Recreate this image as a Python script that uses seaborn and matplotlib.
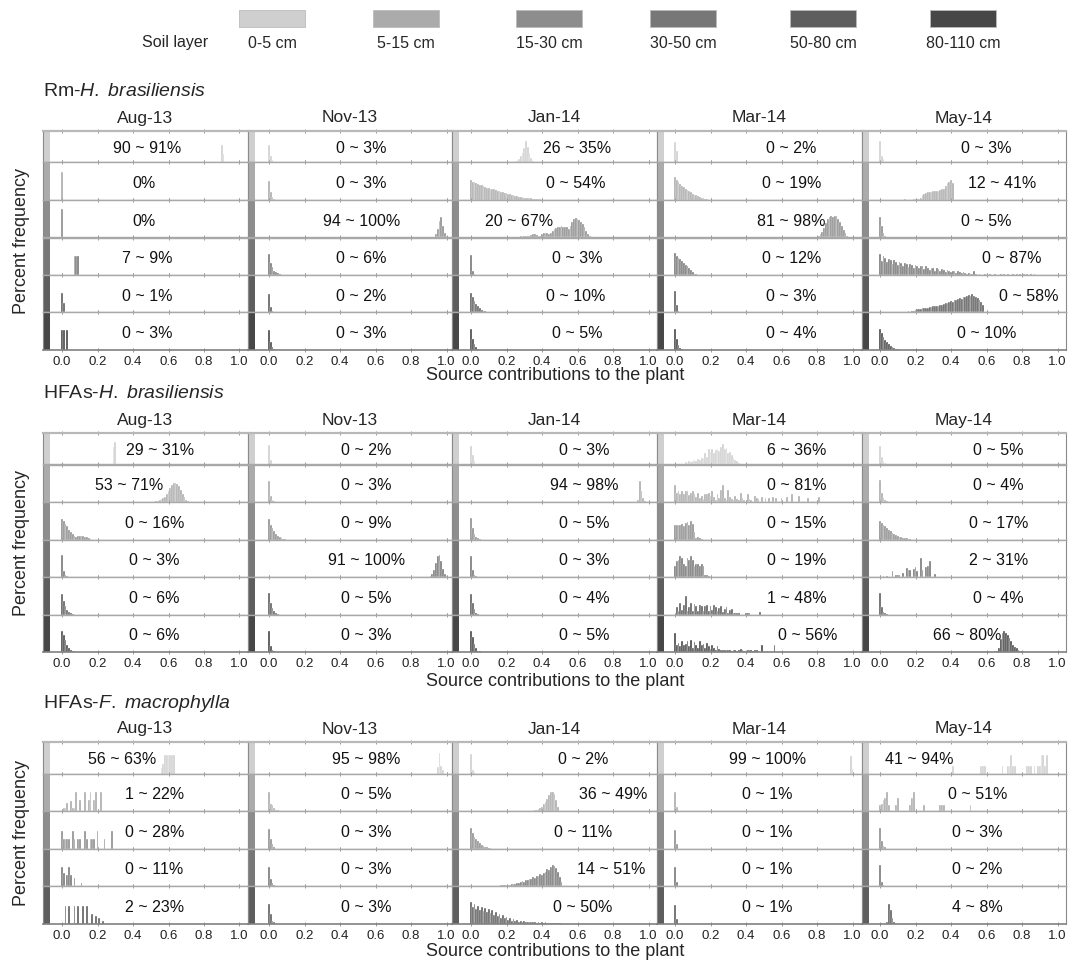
import numpy as np
import pandas as pd
import matplotlib
matplotlib.use('Agg')
import matplotlib.pyplot as plt
from matplotlib.patches import Rectangle
import seaborn as sns

# Source contributions of soil layers to plant water (MixSIAR style histograms)

layers = ['0-5 cm', '5-15 cm', '15-30 cm', '30-50 cm', '50-80 cm', '80-110 cm']
layer_colors = ['#cfcfcf', '#ababab', '#8d8d8d', '#777777', '#5e5e5e', '#474747']
months = ['Aug-13', 'Nov-13', 'Jan-14', 'Mar-14', 'May-14']
panel_titles = [r'Rm-$\mathit{H.\ brasiliensis}$',
                r'HFAs-$\mathit{H.\ brasiliensis}$',
                r'HFAs-$\mathit{F.\ macrophylla}$']
tick_values = [0.0, 0.2, 0.4, 0.6, 0.8, 1.0]
tick_labels = ['0.0', '0.2', '0.4', '0.6', '0.8', '1.0']

# ---- Rm - H. brasiliensis ----
rm_ranges = [
    ['90 ~ 91%', '0 ~ 3%', '26 ~ 35%', '0 ~ 2%', '0 ~ 3%'],
    ['0%', '0 ~ 3%', '0 ~ 54%', '0 ~ 19%', '12 ~ 41%'],
    ['0%', '94 ~ 100%', '20 ~ 67%', '81 ~ 98%', '0 ~ 5%'],
    ['7 ~ 9%', '0 ~ 6%', '0 ~ 3%', '0 ~ 12%', '0 ~ 87%'],
    ['0 ~ 1%', '0 ~ 2%', '0 ~ 10%', '0 ~ 3%', '0 ~ 58%'],
    ['0 ~ 3%', '0 ~ 3%', '0 ~ 5%', '0 ~ 4%', '0 ~ 10%'],
]
# each cell: (first bin, relative bar heights of 1% bins)
rm_hist = [
    [(0.90, [0.57, 0.27]),
     (0.0, [0.55, 0.2, 0.07, 0.03]),
     (0.26, [0.05, 0.1, 0.2, 0.3, 0.45, 0.68, 0.5, 0.3, 0.15, 0.05]),
     (0.0, [0.64, 0.35, 0.03]),
     (0.0, [0.68, 0.22, 0.1, 0.03])],
    [(0.0, [0.75]),
     (0.0, [0.5, 0.2, 0.07, 0.03]),
     (0.0, [0.53, 0.49, 0.47, 0.45, 0.43, 0.41, 0.39, 0.37, 0.35, 0.33,
            0.31, 0.30, 0.29, 0.28, 0.27, 0.25, 0.24, 0.22, 0.21, 0.19,
            0.18, 0.16, 0.15, 0.13, 0.12, 0.11, 0.10, 0.09, 0.08, 0.07,
            0.06, 0.05, 0.05, 0.04, 0.04, 0.03, 0.03, 0.03, 0.03, 0.02,
            0.01, 0.01, 0.01, 0.01, 0.01, 0.01, 0.01, 0.01, 0.01, 0.01,
            0.01, 0.01, 0.01, 0.01, 0.01]),
     (0.0, [0.6, 0.52, 0.47, 0.42, 0.38, 0.34, 0.3, 0.27, 0.24, 0.2,
            0.17, 0.14, 0.12, 0.1, 0.08, 0.06, 0.04, 0.03, 0.02, 0.01]),
     (0.12, [0.01, 0.01, 0.02, 0.01, 0.01, 0.01, 0.01, 0.02, 0.02, 0.02,
             0.03, 0.06, 0.12, 0.16, 0.18, 0.2, 0.22, 0.22, 0.24, 0.24,
             0.25, 0.25, 0.27, 0.28, 0.3, 0.38, 0.45, 0.47, 0.52, 0.45])],
    [(0.0, [0.76]),
     (0.94, [0.08, 0.22, 0.45, 0.54, 0.3, 0.12, 0.04]),
     (0.20, [0.01, 0.0, 0.01, 0.0, 0.01, 0.01, 0.02, 0.02, 0.03, 0.02,
             0.03, 0.04, 0.03, 0.05, 0.07, 0.09, 0.08, 0.06, 0.04, 0.05,
             0.08, 0.11, 0.13, 0.12, 0.10, 0.12, 0.16, 0.22, 0.26, 0.28,
             0.29, 0.30, 0.28, 0.29, 0.27, 0.22, 0.30, 0.40, 0.48, 0.52,
             0.50, 0.46, 0.42, 0.36, 0.28, 0.18, 0.09, 0.04]),
     (0.81, [0.03, 0.08, 0.15, 0.25, 0.38, 0.48, 0.55, 0.58, 0.55, 0.58,
             0.56, 0.5, 0.42, 0.3, 0.2, 0.12, 0.05, 0.02]),
     (0.0, [0.55, 0.3, 0.12, 0.05, 0.02, 0.01])],
    [(0.07, [0.52, 0.52, 0.52]),
     (0.0, [0.57, 0.33, 0.22, 0.12, 0.08, 0.05, 0.02]),
     (0.0, [0.54, 0.12, 0.03, 0.01]),
     (0.0, [0.58, 0.5, 0.46, 0.42, 0.38, 0.33, 0.28, 0.23, 0.18, 0.13,
            0.08, 0.04, 0.02]),
     (0.0, [0.55, 0.38, 0.50, 0.45, 0.34, 0.44, 0.40, 0.30, 0.40, 0.36,
            0.27, 0.36, 0.33, 0.25, 0.33, 0.30, 0.22, 0.30, 0.28, 0.2,
            0.28, 0.25, 0.18, 0.25, 0.23, 0.16, 0.23, 0.2, 0.14, 0.2,
            0.18, 0.12, 0.18, 0.16, 0.1, 0.16, 0.14, 0.09, 0.14, 0.12,
            0.08, 0.12, 0.1, 0.06, 0.1, 0.08, 0.05, 0.08, 0.06, 0.03,
            0.05, 0.04, 0.02, 0.1, 0.02, 0.01, 0.03, 0.0, 0.01, 0.02,
            0.0, 0.01, 0.02, 0.0, 0.01, 0.02, 0.0, 0.0, 0.02, 0.0,
            0.02, 0.0, 0.02, 0.0, 0.01, 0.02, 0.0, 0.02, 0.0, 0.02,
            0.0, 0.02, 0.0, 0.02, 0.0, 0.02, 0.0, 0.02])],
    [(0.0, [0.51, 0.25]),
     (0.0, [0.5, 0.15, 0.04]),
     (0.0, [0.53, 0.4, 0.3, 0.22, 0.16, 0.11, 0.07, 0.05, 0.03, 0.02, 0.01]),
     (0.0, [0.58, 0.2, 0.05, 0.02]),
     (0.0, [0.02, 0.0, 0.02, 0.01, 0.02, 0.0, 0.02, 0.01, 0.02, 0.01,
            0.02, 0.01, 0.02, 0.02, 0.01, 0.02, 0.03, 0.02, 0.04, 0.05,
            0.07, 0.08, 0.09, 0.1, 0.11, 0.12, 0.12, 0.13, 0.14, 0.15,
            0.16, 0.17, 0.17, 0.18, 0.2, 0.21, 0.22, 0.24, 0.26, 0.27,
            0.3, 0.28, 0.33, 0.32, 0.36, 0.38, 0.37, 0.42, 0.4, 0.44,
            0.47, 0.45, 0.48, 0.44, 0.42, 0.38, 0.33, 0.27, 0.2])],
    [(0.0, [0.53, 0.53, 0.0, 0.53]),
     (0.0, [0.52, 0.2, 0.08, 0.03]),
     (0.0, [0.55, 0.3, 0.15, 0.07, 0.03, 0.01]),
     (0.0, [0.55, 0.3, 0.12, 0.05, 0.02]),
     (0.0, [0.55, 0.45, 0.35, 0.27, 0.2, 0.15, 0.11, 0.08, 0.05, 0.03, 0.02])],
]
rm_text_x = [
    [0.48, 0.52, 0.60, 0.655, 0.60],
    [0.46, 0.52, 0.59, 0.655, 0.69],
    [0.46, 0.52, 0.27, 0.655, 0.60],
    [0.48, 0.52, 0.60, 0.655, 0.74],
    [0.48, 0.52, 0.59, 0.655, 0.84],
    [0.48, 0.52, 0.60, 0.655, 0.60],
]

# ---- HFAs - H. brasiliensis ----
hb_ranges = [
    ['29 ~ 31%', '0 ~ 2%', '0 ~ 3%', '6 ~ 36%', '0 ~ 5%'],
    ['53 ~ 71%', '0 ~ 3%', '94 ~ 98%', '0 ~ 81%', '0 ~ 4%'],
    ['0 ~ 16%', '0 ~ 9%', '0 ~ 5%', '0 ~ 15%', '0 ~ 17%'],
    ['0 ~ 3%', '91 ~ 100%', '0 ~ 3%', '0 ~ 19%', '2 ~ 31%'],
    ['0 ~ 6%', '0 ~ 5%', '0 ~ 4%', '1 ~ 48%', '0 ~ 4%'],
    ['0 ~ 6%', '0 ~ 3%', '0 ~ 5%', '0 ~ 56%', '66 ~ 80%'],
]
hb_hist = [
    [(0.29, [0.57, 0.72, 0.03]),
     (0.0, [0.62, 0.15, 0.03]),
     (0.0, [0.6, 0.3, 0.1, 0.02]),
     (0.06, [0.08, 0.05, 0.12, 0.08, 0.1, 0.15, 0.12, 0.18, 0.15, 0.22,
             0.2, 0.35, 0.25, 0.5, 0.4, 0.48, 0.35, 0.45, 0.5, 0.42,
             0.55, 0.65, 0.48, 0.52, 0.38, 0.4, 0.3, 0.22, 0.15, 0.1, 0.05]),
     (0.0, [0.6, 0.25, 0.1, 0.04, 0.02, 0.01])],
    [(0.53, [0.02, 0.03, 0.05, 0.08, 0.1, 0.14, 0.2, 0.28, 0.36, 0.44,
             0.5, 0.52, 0.48, 0.42, 0.32, 0.22, 0.12, 0.06, 0.02]),
     (0.0, [0.55, 0.15, 0.05, 0.02]),
     (0.94, [0.05, 0.55, 0.3, 0.1, 0.03]),
     (0.0, [0.45, 0.25, 0.3, 0.22, 0.3, 0.2, 0.28, 0.3, 0.18, 0.25,
            0.3, 0.2, 0.12, 0.25, 0.1, 0.15, 0.08, 0.2, 0.22, 0.25,
            0.15, 0.3, 0.12, 0.05, 0.2, 0.1, 0.32, 0.45, 0.1, 0.05,
            0.32, 0.12, 0.08, 0.05, 0.15, 0.08, 0.05, 0.25, 0.1, 0.05,
            0.0, 0.2, 0.08, 0.05, 0.0, 0.15, 0.1, 0.08, 0.0, 0.12,
            0.0, 0.1, 0.0, 0.1, 0.0, 0.12, 0.0, 0.1, 0.0, 0.0,
            0.1, 0.0, 0.0, 0.12, 0.0, 0.0, 0.22, 0.0, 0.0, 0.0,
            0.15, 0.0, 0.0, 0.0, 0.0, 0.1, 0.0, 0.0, 0.0, 0.0,
            0.0, 0.12]),
     (0.0, [0.58, 0.25, 0.1, 0.04, 0.02])],
    [(0.0, [0.56, 0.5, 0.42, 0.35, 0.26, 0.2, 0.14, 0.1, 0.08, 0.09,
            0.1, 0.1, 0.09, 0.08, 0.06, 0.03, 0.02]),
     (0.0, [0.55, 0.4, 0.3, 0.22, 0.15, 0.1, 0.06, 0.04, 0.02, 0.01]),
     (0.0, [0.57, 0.3, 0.15, 0.07, 0.03, 0.01]),
     (0.0, [0.38, 0.4, 0.4, 0.38, 0.42, 0.36, 0.44, 0.48, 0.4, 0.5,
            0.42, 0.2, 0.05, 0.06, 0.05, 0.02]),
     (0.0, [0.5, 0.45, 0.4, 0.35, 0.3, 0.26, 0.22, 0.18, 0.15, 0.12,
            0.1, 0.08, 0.06, 0.05, 0.04, 0.03, 0.02, 0.01])],
    [(0.0, [0.58, 0.15, 0.05, 0.02]),
     (0.91, [0.03, 0.08, 0.2, 0.38, 0.55, 0.58, 0.42, 0.22, 0.08, 0.02]),
     (0.0, [0.57, 0.2, 0.05, 0.02]),
     (0.0, [0.3, 0.42, 0.45, 0.55, 0.5, 0.35, 0.3, 0.5, 0.45, 0.55,
            0.45, 0.3, 0.35, 0.35, 0.3, 0.35, 0.3, 0.05, 0.05, 0.02]),
     (0.02, [0.02, 0.0, 0.02, 0.0, 0.0, 0.15, 0.0, 0.05, 0.06, 0.05,
             0.0, 0.1, 0.0, 0.25, 0.18, 0.18, 0.0, 0.22, 0.28, 0.15,
             0.0, 0.52, 0.2, 0.0, 0.28, 0.3, 0.42, 0.0, 0.0, 0.07])],
    [(0.0, [0.55, 0.35, 0.22, 0.12, 0.06, 0.03, 0.01]),
     (0.0, [0.57, 0.32, 0.18, 0.09, 0.04, 0.01]),
     (0.0, [0.55, 0.3, 0.15, 0.05, 0.02]),
     (0.01, [0.2, 0.1, 0.3, 0.12, 0.25, 0.5, 0.1, 0.2, 0.32, 0.1,
             0.28, 0.22, 0.1, 0.25, 0.22, 0.1, 0.22, 0.25, 0.1, 0.22,
             0.12, 0.25, 0.2, 0.1, 0.18, 0.22, 0.08, 0.15, 0.2, 0.05,
             0.12, 0.15, 0.03, 0.05, 0.04, 0.03, 0.0, 0.0, 0.0, 0.03,
             0.04, 0.03, 0.0, 0.0, 0.0, 0.0, 0.0, 0.08]),
     (0.0, [0.57, 0.2, 0.08, 0.03, 0.01])],
    [(0.0, [0.55, 0.45, 0.32, 0.2, 0.12, 0.06, 0.02]),
     (0.0, [0.57, 0.15, 0.05, 0.02]),
     (0.0, [0.55, 0.4, 0.22, 0.1, 0.04, 0.02]),
     (0.0, [0.5, 0.2, 0.25, 0.15, 0.3, 0.18, 0.22, 0.3, 0.15, 0.32,
            0.12, 0.28, 0.2, 0.1, 0.3, 0.18, 0.22, 0.1, 0.25, 0.15,
            0.08, 0.2, 0.1, 0.05, 0.15, 0.08, 0.05, 0.06, 0.05, 0.06,
            0.05, 0.06, 0.04, 0.05, 0.06, 0.04, 0.05, 0.08, 0.05, 0.04,
            0.0, 0.05, 0.06, 0.05, 0.04, 0.05, 0.06, 0.0, 0.0, 0.18,
            0.0, 0.0, 0.0, 0.0, 0.0, 0.0, 0.2]),
     (0.66, [0.03, 0.1, 0.35, 0.52, 0.56, 0.5, 0.45, 0.38, 0.3, 0.2,
             0.14, 0.1, 0.06, 0.03, 0.02])],
]
hb_text_x = [
    [0.55, 0.55, 0.64, 0.685, 0.667],
    [0.38, 0.55, 0.64, 0.685, 0.667],
    [0.52, 0.55, 0.64, 0.685, 0.667],
    [0.52, 0.55, 0.64, 0.685, 0.667],
    [0.52, 0.55, 0.64, 0.685, 0.667],
    [0.52, 0.55, 0.64, 0.75, 0.49],
]

# ---- HFAs - F. macrophylla ----
fm_ranges = [
    ['56 ~ 63%', '95 ~ 98%', '0 ~ 2%', '99 ~ 100%', '41 ~ 94%'],
    ['1 ~ 22%', '0 ~ 5%', '36 ~ 49%', '0 ~ 1%', '0 ~ 51%'],
    ['0 ~ 28%', '0 ~ 3%', '0 ~ 11%', '0 ~ 1%', '0 ~ 3%'],
    ['0 ~ 11%', '0 ~ 3%', '14 ~ 51%', '0 ~ 1%', '0 ~ 2%'],
    ['2 ~ 23%', '0 ~ 3%', '0 ~ 50%', '0 ~ 1%', '4 ~ 8%'],
]
fm_hist = [
    [(0.56, [0.18, 0.3, 0.58, 0.58, 0.58, 0.58, 0.58, 0.58]),
     (0.95, [0.2, 0.66, 0.25, 0.1]),
     (0.0, [0.62, 0.1, 0.05]),
     (0.99, [0.55, 0.15]),
     (0.41, [0.25, 0.0, 0.0, 0.0, 0.0, 0.0, 0.0, 0.0, 0.0, 0.0,
             0.0, 0.0, 0.0, 0.0, 0.0, 0.0, 0.25, 0.25, 0.25, 0.0,
             0.0, 0.0, 0.0, 0.0, 0.0, 0.0, 0.0, 0.0, 0.25, 0.0,
             0.0, 0.25, 0.25, 0.58, 0.25, 0.25, 0.0, 0.0, 0.0, 0.0,
             0.0, 0.0, 0.25, 0.25, 0.25, 0.0, 0.25, 0.0, 0.25, 0.25,
             0.58, 0.58, 0.25, 0.58])],
    [(0.01, [0.08, 0.08, 0.22, 0.0, 0.28, 0.08, 0.08, 0.5, 0.0, 0.3,
             0.0, 0.0, 0.5, 0.0, 0.3, 0.5, 0.0, 0.3, 0.5, 0.0,
             0.0, 0.5]),
     (0.0, [0.5, 0.2, 0.15, 0.08, 0.04, 0.02]),
     (0.36, [0.02, 0.03, 0.05, 0.08, 0.12, 0.18, 0.25, 0.33, 0.42, 0.5,
             0.51, 0.45, 0.3, 0.1]),
     (0.0, [0.5, 0.1]),
     (0.0, [0.15, 0.2, 0.3, 0.35, 0.5, 0.15, 0.0, 0.0, 0.0, 0.15,
            0.35, 0.0, 0.0, 0.0, 0.0, 0.0, 0.0, 0.15, 0.35, 0.5,
            0.0, 0.0, 0.0, 0.0, 0.0, 0.15, 0.0, 0.0, 0.0, 0.0,
            0.0, 0.0, 0.0, 0.0, 0.15, 0.15, 0.15, 0.0, 0.0, 0.0,
            0.0, 0.0, 0.0, 0.0, 0.0, 0.0, 0.0, 0.0, 0.0, 0.0,
            0.0, 0.15])],
    [(0.0, [0.48, 0.25, 0.25, 0.25, 0.25, 0.0, 0.48, 0.25, 0.0, 0.25,
            0.25, 0.0, 0.0, 0.48, 0.25, 0.0, 0.25, 0.25, 0.25, 0.0,
            0.48, 0.0, 0.0, 0.0, 0.25, 0.0, 0.0, 0.0, 0.48]),
     (0.0, [0.52, 0.25, 0.12, 0.05]),
     (0.0, [0.55, 0.42, 0.32, 0.25, 0.2, 0.15, 0.1, 0.07, 0.05, 0.03,
            0.02, 0.01]),
     (0.0, [0.5, 0.12]),
     (0.0, [0.55, 0.2, 0.08, 0.04])],
    [(0.0, [0.5, 0.35, 0.0, 0.3, 0.5, 0.3, 0.0, 0.22, 0.0, 0.0,
            0.0, 0.08]),
     (0.0, [0.5, 0.2, 0.08, 0.03]),
     (0.14, [0.01, 0.0, 0.01, 0.02, 0.02, 0.03, 0.03, 0.04, 0.04, 0.05,
             0.06, 0.06, 0.08, 0.09, 0.1, 0.13, 0.12, 0.16, 0.15, 0.2,
             0.2, 0.24, 0.22, 0.28, 0.26, 0.32, 0.3, 0.36, 0.38, 0.45,
             0.43, 0.52, 0.55, 0.53, 0.47, 0.38, 0.25, 0.1]),
     (0.0, [0.5, 0.12]),
     (0.0, [0.55, 0.12, 0.04])],
    [(0.02, [0.48, 0.0, 0.48, 0.0, 0.0, 0.48, 0.0, 0.48, 0.0, 0.0,
             0.48, 0.0, 0.48, 0.0, 0.0, 0.25, 0.0, 0.2, 0.0, 0.15,
             0.0, 0.07]),
     (0.0, [0.52, 0.25, 0.08, 0.03]),
     (0.0, [0.58, 0.45, 0.52, 0.4, 0.47, 0.36, 0.44, 0.34, 0.42, 0.3,
            0.38, 0.28, 0.35, 0.24, 0.3, 0.2, 0.26, 0.16, 0.22, 0.14,
            0.18, 0.1, 0.15, 0.08, 0.12, 0.07, 0.1, 0.05, 0.08, 0.04,
            0.06, 0.04, 0.05, 0.03, 0.04, 0.03, 0.04, 0.02, 0.03, 0.02,
            0.03, 0.02, 0.03, 0.02, 0.02, 0.01, 0.02, 0.01, 0.01, 0.01,
            0.01]),
     (0.0, [0.5, 0.12]),
     (0.04, [0.05, 0.52, 0.35, 0.15, 0.05])],
]
fm_text_x = [
    [0.34, 0.55, 0.63, 0.52, 0.22],
    [0.52, 0.55, 0.80, 0.52, 0.55],
    [0.52, 0.55, 0.63, 0.52, 0.55],
    [0.52, 0.55, 0.79, 0.52, 0.55],
    [0.52, 0.55, 0.63, 0.52, 0.55],
]

sns.set_style('white')
plt.rcParams['font.family'] = ['Liberation Sans', 'DejaVu Sans']
plt.rcParams['mathtext.fontset'] = 'custom'
plt.rcParams['mathtext.rm'] = 'Liberation Sans'
plt.rcParams['mathtext.it'] = 'Liberation Sans:italic'

W, H = 1077, 963
fig = plt.figure(figsize=(W / 100, H / 100), dpi=100)

# layout in pixels
strip_left = [43, 248, 452, 657, 862]
zero_px = [62, 269, 471, 675, 880]
col_right = [248, 452, 657, 862, 1066]
scale = 177.5
strip_w = 7
first_row_h = 31.5
row_h = 37.5


def px_text(x, y, s, **kw):
    fig.text(x / W, 1 - y / H, s, **kw)


# legend at top
px_text(175, 43, 'Soil layer', ha='center', va='center', fontsize=11.5)
box_centers = [272, 406, 549, 683, 823, 963]
for name, col, cx in zip(layers, layer_colors, box_centers):
    fig.add_artist(Rectangle(((cx - 33) / W, 1 - 27 / H), 66 / W, 17 / H,
                             transform=fig.transFigure, facecolor=col,
                             edgecolor='#bbbbbb', linewidth=0.6))
    px_text(cx, 43, name, ha='center', va='center', fontsize=11.5)


def draw_panel(top, hists, ranges, text_x, title, xlabel_y):
    nrows = len(hists)
    heights = [first_row_h] + [row_h] * (nrows - 1)
    px_text(43, top - 39, title, ha='left', va='center', fontsize=14)
    for c in range(5):
        px_text((strip_left[c] + col_right[c]) / 2, top - 13, months[c],
                ha='center', va='center', fontsize=12.5)
    y = top
    for r in range(nrows):
        for c in range(5):
            left, right = strip_left[c], col_right[c]
            ax = fig.add_axes([left / W, 1 - (y + heights[r]) / H,
                               (right - left) / W, heights[r] / H])
            start, hs = hists[r][c]
            cell = pd.DataFrame({'share': start + 0.01 * np.arange(len(hs)),
                                 'freq': hs})
            sns.histplot(data=cell, x='share', weights='freq', binwidth=0.01,
                         binrange=(start - 0.005, start - 0.005 + 0.01 * len(hs)),
                         ax=ax, color=layer_colors[r], edgecolor='white',
                         linewidth=0.25, alpha=1)
            x_lo = (left - zero_px[c]) / scale
            x_hi = (right - zero_px[c]) / scale
            ax.set_xlim(x_lo, x_hi)
            ax.set_ylim(0, 1)
            ax.axvspan(x_lo, x_lo + strip_w / scale, color=layer_colors[r],
                       linewidth=0)
            ax.text(text_x[r][c], 0.43, ranges[r][c], ha='center',
                    va='center', fontsize=11.5, color='#111111')
            ax.set_ylabel('')
            ax.set_xlabel('')
            ax.set_yticks([])
            ax.set_xticks(tick_values)
            ax.set_xticklabels(tick_labels)
            ax.tick_params(axis='x', direction='inout', length=3, width=0.7,
                           color='#9a9a9a', top=True, bottom=True, pad=3,
                           labelsize=9.5, labelcolor='#222222',
                           labelbottom=(r == nrows - 1))
            for side in ['top', 'bottom']:
                ax.spines[side].set_color('#a8a8a8')
                ax.spines[side].set_linewidth(1.0)
            ax.spines['left'].set_color('#8a8a8a')
            ax.spines['right'].set_color('#8a8a8a')
            ax.spines['left'].set_linewidth(0.8)
            ax.spines['right'].set_linewidth(0.8)
            if r == 0:
                ax.spines['top'].set_color('#b8b8b8')
                ax.spines['top'].set_linewidth(1.6)
            if r == nrows - 1:
                ax.spines['bottom'].set_color('#808080')
                ax.spines['bottom'].set_linewidth(1.2)
        y += heights[r]
    px_text(22, (top + y) / 2, 'Percent frequency', rotation=90,
            ha='center', va='center', fontsize=13)
    px_text(555, xlabel_y, 'Source contributions to the plant',
            ha='center', va='center', fontsize=13)


draw_panel(131, rm_hist, rm_ranges, rm_text_x, panel_titles[0], 375)
draw_panel(433, hb_hist, hb_ranges, hb_text_x, panel_titles[1], 681)
draw_panel(742, fm_hist, fm_ranges, fm_text_x, panel_titles[2], 951)

fig.savefig('out.png', dpi=100)
